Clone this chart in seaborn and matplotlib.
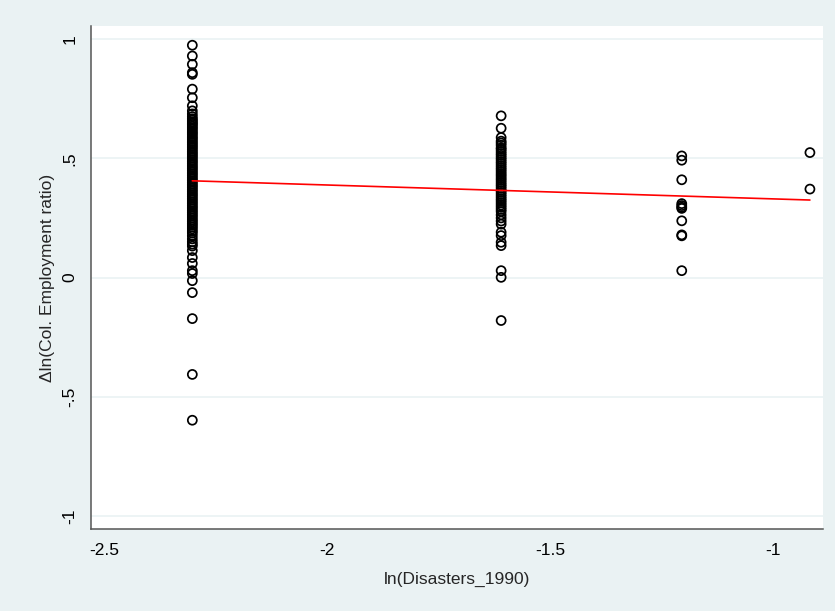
import pandas as pd
import numpy as np
import matplotlib
matplotlib.use("Agg")
import matplotlib.pyplot as plt
import seaborn as sns

# --- data ---
# x positions: ln(Disasters_1990) for 0.1, 0.2, 0.3, 0.4
x_levels = [-2.3026, -1.6094, -1.2040, -0.9163]

# column at ln(0.1): sparse points above / below and the dense block
col1_y = [0.974, 0.929, 0.894, 0.859, 0.852, 0.790, 0.754, 0.720, 0.699, 0.686,
          0.675, 0.666, 0.660, 0.653, 0.647, 0.642, 0.635, 0.628, 0.622, 0.614,
          0.607, 0.601, 0.593, 0.586, 0.580, 0.572, 0.565, 0.558, 0.551, 0.544,
          0.537, 0.529, 0.522, 0.515, 0.508, 0.501, 0.493, 0.486, 0.479, 0.471,
          0.464, 0.457, 0.450, 0.442, 0.435, 0.428, 0.420, 0.413, 0.406, 0.399,
          0.391, 0.384, 0.377, 0.369, 0.362, 0.354, 0.347, 0.340, 0.332, 0.325,
          0.317, 0.310, 0.302, 0.295, 0.288, 0.280, 0.273, 0.265, 0.258, 0.250,
          0.242, 0.235, 0.227, 0.220, 0.212, 0.204, 0.195, 0.187, 0.175, 0.162,
          0.150, 0.140, 0.132,
          0.113, 0.084, 0.059, 0.029, 0.017, -0.013, -0.063, -0.172, -0.406, -0.598]

# column at ln(0.2)
col2_y = [0.678, 0.626,
          0.587, 0.572, 0.564, 0.555, 0.544, 0.538, 0.529, 0.520, 0.512, 0.503,
          0.495, 0.486, 0.478, 0.469, 0.460, 0.452, 0.443, 0.434, 0.426, 0.417,
          0.409, 0.400, 0.391, 0.383, 0.374, 0.365, 0.357, 0.348, 0.339, 0.330,
          0.322, 0.313, 0.304, 0.295, 0.286, 0.277, 0.263, 0.250, 0.237, 0.224,
          0.190, 0.176, 0.148, 0.134, 0.029, 0.001, -0.180]

# column at ln(0.3)
col3_y = [0.510, 0.492, 0.410, 0.310, 0.302, 0.295, 0.290, 0.238, 0.179, 0.175, 0.029]

# column at ln(0.4)
col4_y = [0.524, 0.371]

x_ticks = [-2.5, -2, -1.5, -1]
x_tick_labels = ["-2.5", "-2", "-1.5", "-1"]
y_ticks = [-1, -0.5, 0, 0.5, 1]
y_tick_labels = ["-1", "-.5", "0", ".5", "1"]

cols = [col1_y, col2_y, col3_y, col4_y]
df = pd.concat(
    [pd.DataFrame({"x": xv, "y": ys}) for xv, ys in zip(x_levels, cols)],
    ignore_index=True,
)

# --- style ---
bg = "#EAF2F3"
sns.set_style("white")
plt.rcParams["font.family"] = ["Liberation Sans", "DejaVu Sans"]

fig = plt.figure(figsize=(8.35, 6.11), dpi=100, facecolor=bg)
ax = fig.add_axes([0.109, 0.134, 0.8766, 0.8234])
ax.set_facecolor("white")

ax.set_axisbelow(True)
for yt in y_ticks:
    ax.axhline(yt, color=bg, lw=1.2, zorder=0)

sns.scatterplot(data=df, x="x", y="y", ax=ax, marker="o", s=42,
                facecolor="none", edgecolor="black", linewidth=1.25, zorder=3)
sns.regplot(data=df, x="x", y="y", ax=ax, scatter=False, ci=None,
            truncate=True, color="red", line_kws={"lw": 1.2, "zorder": 4})

ax.set_xlim(-2.530, -0.887)
ax.set_ylim(-1.0545, 1.0545)
ax.set_xticks(x_ticks)
ax.set_xticklabels(x_tick_labels)
ax.set_yticks(y_ticks)
ax.set_yticklabels(y_tick_labels, rotation=90, va="center")

ax.tick_params(axis="both", direction="out", length=6, width=1,
               color="#444444", labelsize=12.5, labelcolor="black", pad=4)
for side in ["top", "right"]:
    ax.spines[side].set_visible(False)
for side in ["left", "bottom"]:
    ax.spines[side].set_color("#555555")
    ax.spines[side].set_linewidth(1.1)

ax.set_xlabel("ln(Disasters_1990)", fontsize=12.5, labelpad=10)
ax.set_ylabel("Δln(Col. Employment ratio)", fontsize=12.5, labelpad=5)

fig.savefig("out.png", dpi=100, facecolor=bg)
